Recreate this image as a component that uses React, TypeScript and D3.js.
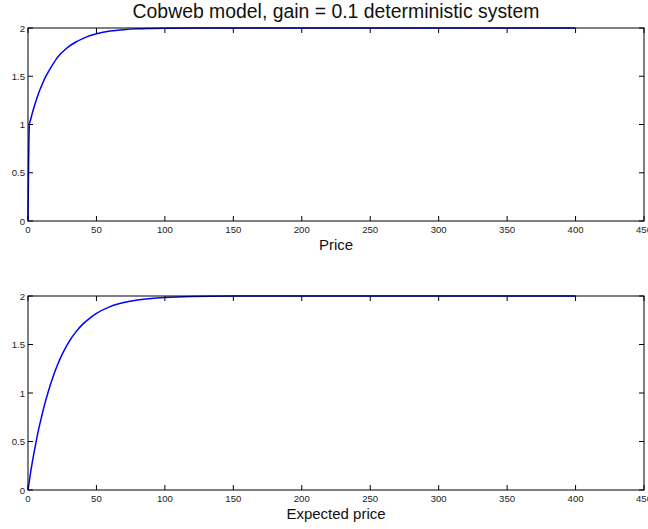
import * as d3 from "d3";
import React from "react";

// time steps sampled from the figure
const times = [0, 1, 2, 3, 4, 6, 8, 10, 12, 14, 16, 18, 21, 24, 27, 30, 35, 40, 45, 50, 60, 70, 80, 90, 100, 120, 150, 200, 250, 300, 350, 400];

// top panel: price
const priceValues = [0, 1.0, 1.055, 1.11, 1.16, 1.25, 1.335, 1.405, 1.47, 1.525, 1.575, 1.62, 1.685, 1.735, 1.775, 1.81, 1.855, 1.89, 1.92, 1.94, 1.968, 1.983, 1.991, 1.995, 1.998, 2, 2, 2, 2, 2, 2, 2];

// bottom panel: expected price
const expectedValues = [0, 0.097, 0.19, 0.275, 0.355, 0.505, 0.64, 0.76, 0.875, 0.975, 1.07, 1.155, 1.27, 1.37, 1.455, 1.53, 1.63, 1.71, 1.77, 1.82, 1.89, 1.932, 1.958, 1.974, 1.984, 1.994, 1.999, 2, 2, 2, 2, 2];

const xTicks = [0, 50, 100, 150, 200, 250, 300, 350, 400, 450];
const yTicks = [0, 0.5, 1, 1.5, 2];

const W = 648;
const H = 529;
const left = 28;
const right = 644;

const Panel = ({ top, bottom, values, label }) => {
  const x = d3.scaleLinear().domain([0, 450]).range([left, right]);
  const y = d3.scaleLinear().domain([0, 2]).range([bottom, top]);
  const pts = times.map((t, i) => [t, values[i]]);
  const line = d3
    .line()
    .x((d) => x(d[0]))
    .y((d) => y(d[1]))
    .curve(d3.curveMonotoneX);
  const tl = 5;
  return (
    <g>
      {xTicks.map((t) => (
        <g key={"x" + t}>
          <line x1={x(t)} x2={x(t)} y1={bottom} y2={bottom - tl} stroke="#000" />
          <line x1={x(t)} x2={x(t)} y1={top} y2={top + tl} stroke="#000" />
          <text x={x(t)} y={bottom + 12} textAnchor="middle" fontSize={9.6} fill="#222">
            {t}
          </text>
        </g>
      ))}
      {yTicks.map((t) => (
        <g key={"y" + t}>
          <line x1={left} x2={left + tl} y1={y(t)} y2={y(t)} stroke="#000" />
          <line x1={right} x2={right - tl} y1={y(t)} y2={y(t)} stroke="#000" />
          <text x={left - 3} y={y(t) + 3.5} textAnchor="end" fontSize={9.6} fill="#222">
            {t}
          </text>
        </g>
      ))}
      <path d={line(pts)} fill="none" stroke="#0000ff" strokeWidth={1.5} />
      <rect x={left} y={top} width={right - left} height={bottom - top} fill="none" stroke="#000" strokeWidth={1} />
      <text x={(left + right) / 2} y={bottom + 29} textAnchor="middle" fontSize={15} fill="#111">
        {label}
      </text>
    </g>
  );
};

export default function App() {
  return (
    <svg
      width={W}
      height={H}
      style={{ position: "absolute", left: 0, top: 0, background: "white" }}
      fontFamily="'Liberation Sans', Arial, sans-serif"
    >
      <rect x={0} y={0} width={W} height={H} fill="white" />
      <text x={(left + right) / 2} y={18} textAnchor="middle" fontSize={19.4} fill="#111">
        Cobweb model, gain = 0.1 deterministic system
      </text>
      <Panel top={28} bottom={221} values={priceValues} label="Price" />
      <Panel top={296} bottom={490} values={expectedValues} label="Expected price" />
    </svg>
  );
}
